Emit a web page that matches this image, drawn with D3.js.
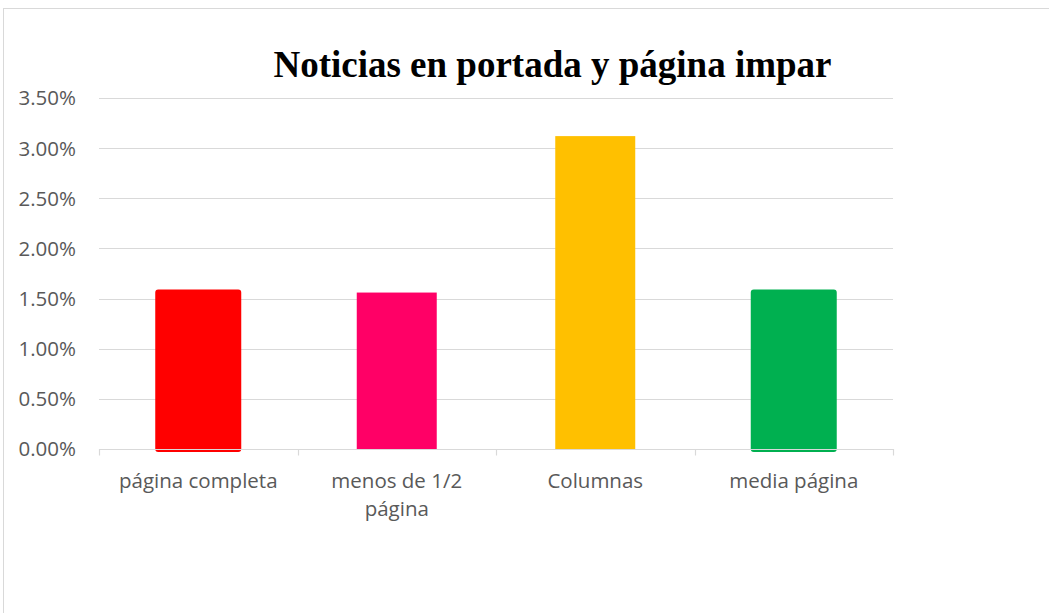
<!DOCTYPE html>
<html>
<head>
<meta charset="utf-8">
<script src="https://cdn.jsdelivr.net/npm/d3@7"></script>
<style>
  body { margin: 0; background: #fff; }
  svg { display: block; }
</style>
</head>
<body>
<svg id="chart" width="1049" height="613"></svg>
<script>
// chart data
var categories = ["página completa", "menos de 1/2 página", "Columnas", "media página"];
var values = [0.0156, 0.0156, 0.0312, 0.0156];
var barColors = ["#FF0000", "#FF0066", "#FFC000", "#00B050"];
// red and green bars carry an outline in the original
var outlined = [true, false, false, true];
var yTicks = [0, 0.005, 0.01, 0.015, 0.02, 0.025, 0.03, 0.035];
var title = "Noticias en portada y página impar";

var svg = d3.select("#chart");

var plot = { left: 99, right: 893, top: 98, bottom: 449 };

// outer chart frame (runs past the window on right and bottom)
svg.append("rect")
    .attr("x", 3.5).attr("y", 8.5)
    .attr("width", 1200).attr("height", 800)
    .attr("fill", "#fff")
    .attr("stroke", "#d9d9d9")
    .attr("stroke-width", 1);

var x = d3.scaleBand()
    .domain(categories)
    .range([plot.left, plot.right])
    .paddingInner(0.597)
    .paddingOuter(0.2985);

var y = d3.scaleLinear()
    .domain([0, 0.035])
    .range([plot.bottom, plot.top]);

var fmt = d3.format(".2%");

// gridlines
svg.append("g").selectAll("line")
    .data(yTicks.slice(1))
    .join("line")
    .attr("x1", plot.left).attr("x2", plot.right)
    .attr("y1", function(d) { return Math.round(y(d)) + 0.5; })
    .attr("y2", function(d) { return Math.round(y(d)) + 0.5; })
    .attr("stroke", "#d9d9d9")
    .attr("stroke-width", 1.2);

// y labels
svg.append("g").selectAll("text")
    .data(yTicks)
    .join("text")
    .attr("x", 76)
    .attr("y", function(d) { return y(d); })
    .attr("dy", "0.36em")
    .attr("text-anchor", "end")
    .style("font-family", "'Open Sans', sans-serif")
    .style("font-size", "20.5px")
    .style("fill", "#595959")
    .text(function(d) { return fmt(d); });

// bars
svg.append("g").selectAll("rect")
    .data(categories)
    .join("rect")
    .attr("x", function(d) { return x(d); })
    .attr("y", function(d, i) { return y(values[i]); })
    .attr("width", x.bandwidth())
    .attr("height", function(d, i) { return y(0) - y(values[i]); })
    .attr("fill", function(d, i) { return barColors[i]; })
    .attr("stroke", function(d, i) { return outlined[i] ? barColors[i] : "none"; })
    .attr("stroke-width", 6)
    .attr("stroke-linejoin", "round");

// category axis: baseline and tick marks at band boundaries
var axis = svg.append("g");
axis.append("line")
    .attr("x1", plot.left).attr("x2", plot.right)
    .attr("y1", Math.round(y(0)) + 0.5).attr("y2", Math.round(y(0)) + 0.5)
    .attr("stroke", "#d9d9d9")
    .attr("stroke-width", 1.2);

var bounds = categories.map(function(d) { return x(d) - x.step() * x.paddingInner() / 2; });
bounds.push(plot.right);
axis.selectAll("line.tick")
    .data(bounds)
    .join("line")
    .attr("class", "tick")
    .attr("x1", function(d) { return Math.round(d) + 0.5; })
    .attr("x2", function(d) { return Math.round(d) + 0.5; })
    .attr("y1", y(0))
    .attr("y2", y(0) + 6.5)
    .attr("stroke", "#d9d9d9")
    .attr("stroke-width", 1.2);

// category labels, wrapped like the original
var maxWidth = 180;
axis.selectAll("text.label")
    .data(categories)
    .join("text")
    .attr("class", "label")
    .attr("text-anchor", "middle")
    .style("font-family", "'Open Sans', sans-serif")
    .style("font-size", "20.5px")
    .style("fill", "#595959")
    .each(function(d) {
      var text = d3.select(this),
          cx = x(d) + x.bandwidth() / 2,
          words = d.split(" "),
          line = [],
          lineNo = 0,
          tspan = text.append("tspan").attr("x", cx).attr("y", 487.5);
      words.forEach(function(w) {
        line.push(w);
        tspan.text(line.join(" "));
        if (tspan.node().getComputedTextLength() > maxWidth && line.length > 1) {
          line.pop();
          tspan.text(line.join(" "));
          line = [w];
          lineNo++;
          tspan = text.append("tspan").attr("x", cx).attr("y", 487.5 + lineNo * 28.5).text(w);
        }
      });
    });

// title
svg.append("text")
    .attr("x", 552.5)
    .attr("y", 77)
    .attr("text-anchor", "middle")
    .style("font-family", "'Liberation Serif', 'Times New Roman', serif")
    .style("font-weight", "bold")
    .style("font-size", "37px")
    .style("fill", "#000")
    .text(title);
</script>
</body>
</html>
